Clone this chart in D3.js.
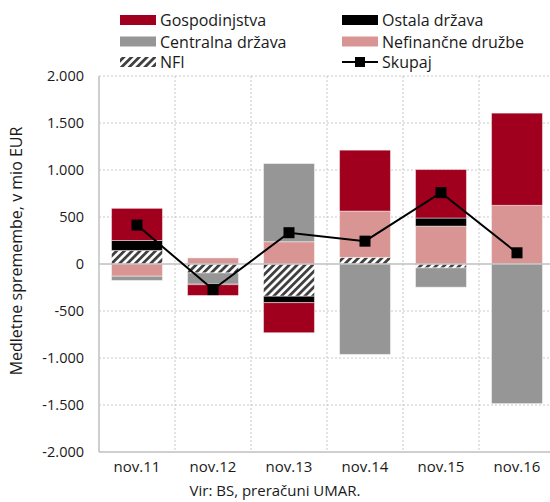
<!DOCTYPE html>
<html>
<head>
<meta charset="utf-8">
<script src="https://cdn.jsdelivr.net/npm/d3@7"></script>
<style>
  body { margin: 0; background: #fff; }
  text { font-family: "Open Sans", "Noto Sans", sans-serif; fill: #1a1a1a; }
</style>
</head>
<body>
<div id="chart"></div>
<script>
// data (mio EUR)
const categories = ["nov.11", "nov.12", "nov.13", "nov.14", "nov.15", "nov.16"];
const nfi = [144, -95, -343, 70, -41, 0];
const nefinancne = [-130, 65, 237, 493, 403, 624];
const centralna = [-45, -120, 832, -962, -206, -1485];
const ostala = [106, -5, -68, 0, 86, 0];
const gospodinjstva = [342, -115, -320, 648, 516, 981];
const skupaj = [414, -272, 333, 243, 759, 119];
const yTicks = [-2000, -1500, -1000, -500, 0, 500, 1000, 1500, 2000];

const width = 550, height = 502;
const margin = { top: 76, left: 99, bottom: 50 };
const plotH = 452 - margin.top;
const plotW = 76 * categories.length;

const svg = d3.select("#chart").append("svg")
  .attr("width", width)
  .attr("height", height);

// hatch pattern for NFI
const defs = svg.append("defs");
const pat = defs.append("pattern")
  .attr("id", "hatch")
  .attr("patternUnits", "userSpaceOnUse")
  .attr("width", 5.5)
  .attr("height", 5.5)
  .attr("patternTransform", "rotate(45)");
pat.append("rect").attr("width", 5.5).attr("height", 5.5).attr("fill", "#fff");
pat.append("rect").attr("width", 2.8).attr("height", 5.5).attr("fill", "#404040");

const series = [
  { key: "nfi", name: "NFI", values: nfi, fill: "url(#hatch)" },
  { key: "nef", name: "Nefinančne družbe", values: nefinancne, fill: "#d99594" },
  { key: "cen", name: "Centralna država", values: centralna, fill: "#969696" },
  { key: "ost", name: "Ostala država", values: ostala, fill: "#000000" },
  { key: "gos", name: "Gospodinjstva", values: gospodinjstva, fill: "#a0001e" }
];

const table = categories.map((c, i) => {
  const row = { cat: c };
  series.forEach(s => { row[s.key] = s.values[i]; });
  return row;
});

const stacked = d3.stack()
  .keys(series.map(s => s.key))
  .offset(d3.stackOffsetDiverging)(table);

const x = d3.scaleBand()
  .domain(categories)
  .range([margin.left, margin.left + plotW])
  .paddingInner(0.33)
  .paddingOuter(0.165);

const y = d3.scaleLinear()
  .domain([-2000, 2000])
  .range([margin.top + plotH, margin.top]);

const g = svg.append("g");

// horizontal grid
g.selectAll(".hgrid")
  .data(yTicks.filter(t => t !== 0 && t !== -2000))
  .enter().append("line")
  .attr("x1", margin.left).attr("x2", width)
  .attr("y1", d => y(d)).attr("y2", d => y(d))
  .attr("stroke", "#c8c8c8")
  .attr("stroke-dasharray", "2,2");

// vertical grid between categories
const bounds = categories.slice(1).map(c => x(c) - x.step() * x.paddingInner() / 2);
g.selectAll(".vgrid")
  .data(bounds)
  .enter().append("line")
  .attr("x1", d => d).attr("x2", d => d)
  .attr("y1", margin.top).attr("y2", y(-2000))
  .attr("stroke", "#c8c8c8")
  .attr("stroke-dasharray", "2,2");

// bars
series.forEach((s, si) => {
  g.selectAll(".bar-" + s.key)
    .data(stacked[si])
    .enter().append("rect")
    .attr("x", d => x(d.data.cat))
    .attr("width", x.bandwidth())
    .attr("y", d => y(Math.max(d[0], d[1])))
    .attr("height", d => Math.abs(y(d[0]) - y(d[1])))
    .attr("fill", s.fill)
    .attr("stroke", "rgba(255,255,255,0.45)")
    .attr("stroke-width", 1);
});

// zero line
g.append("line")
  .attr("x1", margin.left).attr("x2", width)
  .attr("y1", y(0)).attr("y2", y(0))
  .attr("stroke", "#bfbfbf").attr("stroke-width", 1.5);

// axes lines
g.append("line")
  .attr("x1", margin.left).attr("x2", margin.left)
  .attr("y1", margin.top).attr("y2", y(-2000))
  .attr("stroke", "#bfbfbf").attr("stroke-width", 1.5);
g.append("line")
  .attr("x1", margin.left).attr("x2", width)
  .attr("y1", y(-2000)).attr("y2", y(-2000))
  .attr("stroke", "#bfbfbf").attr("stroke-width", 1.5);

// y tick labels
g.selectAll(".ylab")
  .data(yTicks)
  .enter().append("text")
  .attr("x", 84)
  .attr("y", d => y(d) + 5)
  .attr("text-anchor", "end")
  .style("font-size", "14.5px")
  .text(d => d === 0 ? "0" : (d < 0 ? "-" : "") + d3.format(",.0f")(Math.abs(d)).replace(/,/g, "."));

// x labels
g.selectAll(".xlab")
  .data(categories)
  .enter().append("text")
  .attr("x", d => x(d) + x.bandwidth() / 2)
  .attr("y", 472)
  .attr("text-anchor", "middle")
  .style("font-size", "15px")
  .text(d => d);

// skupaj line + markers
const line = d3.line()
  .x((d, i) => x(categories[i]) + x.bandwidth() / 2)
  .y(d => y(d));
g.append("path")
  .datum(skupaj)
  .attr("d", line)
  .attr("fill", "none")
  .attr("stroke", "#000")
  .attr("stroke-width", 2);
g.selectAll(".mark")
  .data(skupaj)
  .enter().append("rect")
  .attr("x", (d, i) => x(categories[i]) + x.bandwidth() / 2 - 5.5)
  .attr("y", d => y(d) - 5.5)
  .attr("width", 11).attr("height", 11)
  .attr("fill", "#000");

// y axis title
svg.append("text")
  .attr("transform", "translate(22,251) rotate(-90)")
  .attr("text-anchor", "middle")
  .style("font-size", "16px")
  .text("Medletne spremembe, v mio EUR");

// source
svg.append("text")
  .attr("x", 275)
  .attr("y", 496)
  .attr("text-anchor", "middle")
  .style("font-size", "15px")
  .text("Vir: BS, preračuni UMAR.");

// legend
const legendItems = [
  { name: "Gospodinjstva", fill: "#a0001e", col: 0, row: 0 },
  { name: "Ostala država", fill: "#000000", col: 1, row: 0 },
  { name: "Centralna država", fill: "#969696", col: 0, row: 1 },
  { name: "Nefinančne družbe", fill: "#d99594", col: 1, row: 1 },
  { name: "NFI", fill: "url(#hatch)", col: 0, row: 2 },
  { name: "Skupaj", fill: null, col: 1, row: 2 }
];
const legend = svg.append("g");
const colX = [120, 342];
const rowY = [20, 41.5, 62];
legendItems.forEach(it => {
  const lx = colX[it.col], ly = rowY[it.row];
  if (it.fill) {
    legend.append("rect")
      .attr("x", lx).attr("y", ly - 5)
      .attr("width", 36).attr("height", 10)
      .attr("fill", it.fill);
  } else {
    legend.append("line")
      .attr("x1", lx).attr("x2", lx + 36)
      .attr("y1", ly).attr("y2", ly)
      .attr("stroke", "#000").attr("stroke-width", 2);
    legend.append("rect")
      .attr("x", lx + 13).attr("y", ly - 5)
      .attr("width", 10).attr("height", 10)
      .attr("fill", "#000");
  }
  legend.append("text")
    .attr("x", lx + 40)
    .attr("y", ly + 6)
    .style("font-size", "16px")
    .text(it.name);
});
</script>
</body>
</html>
